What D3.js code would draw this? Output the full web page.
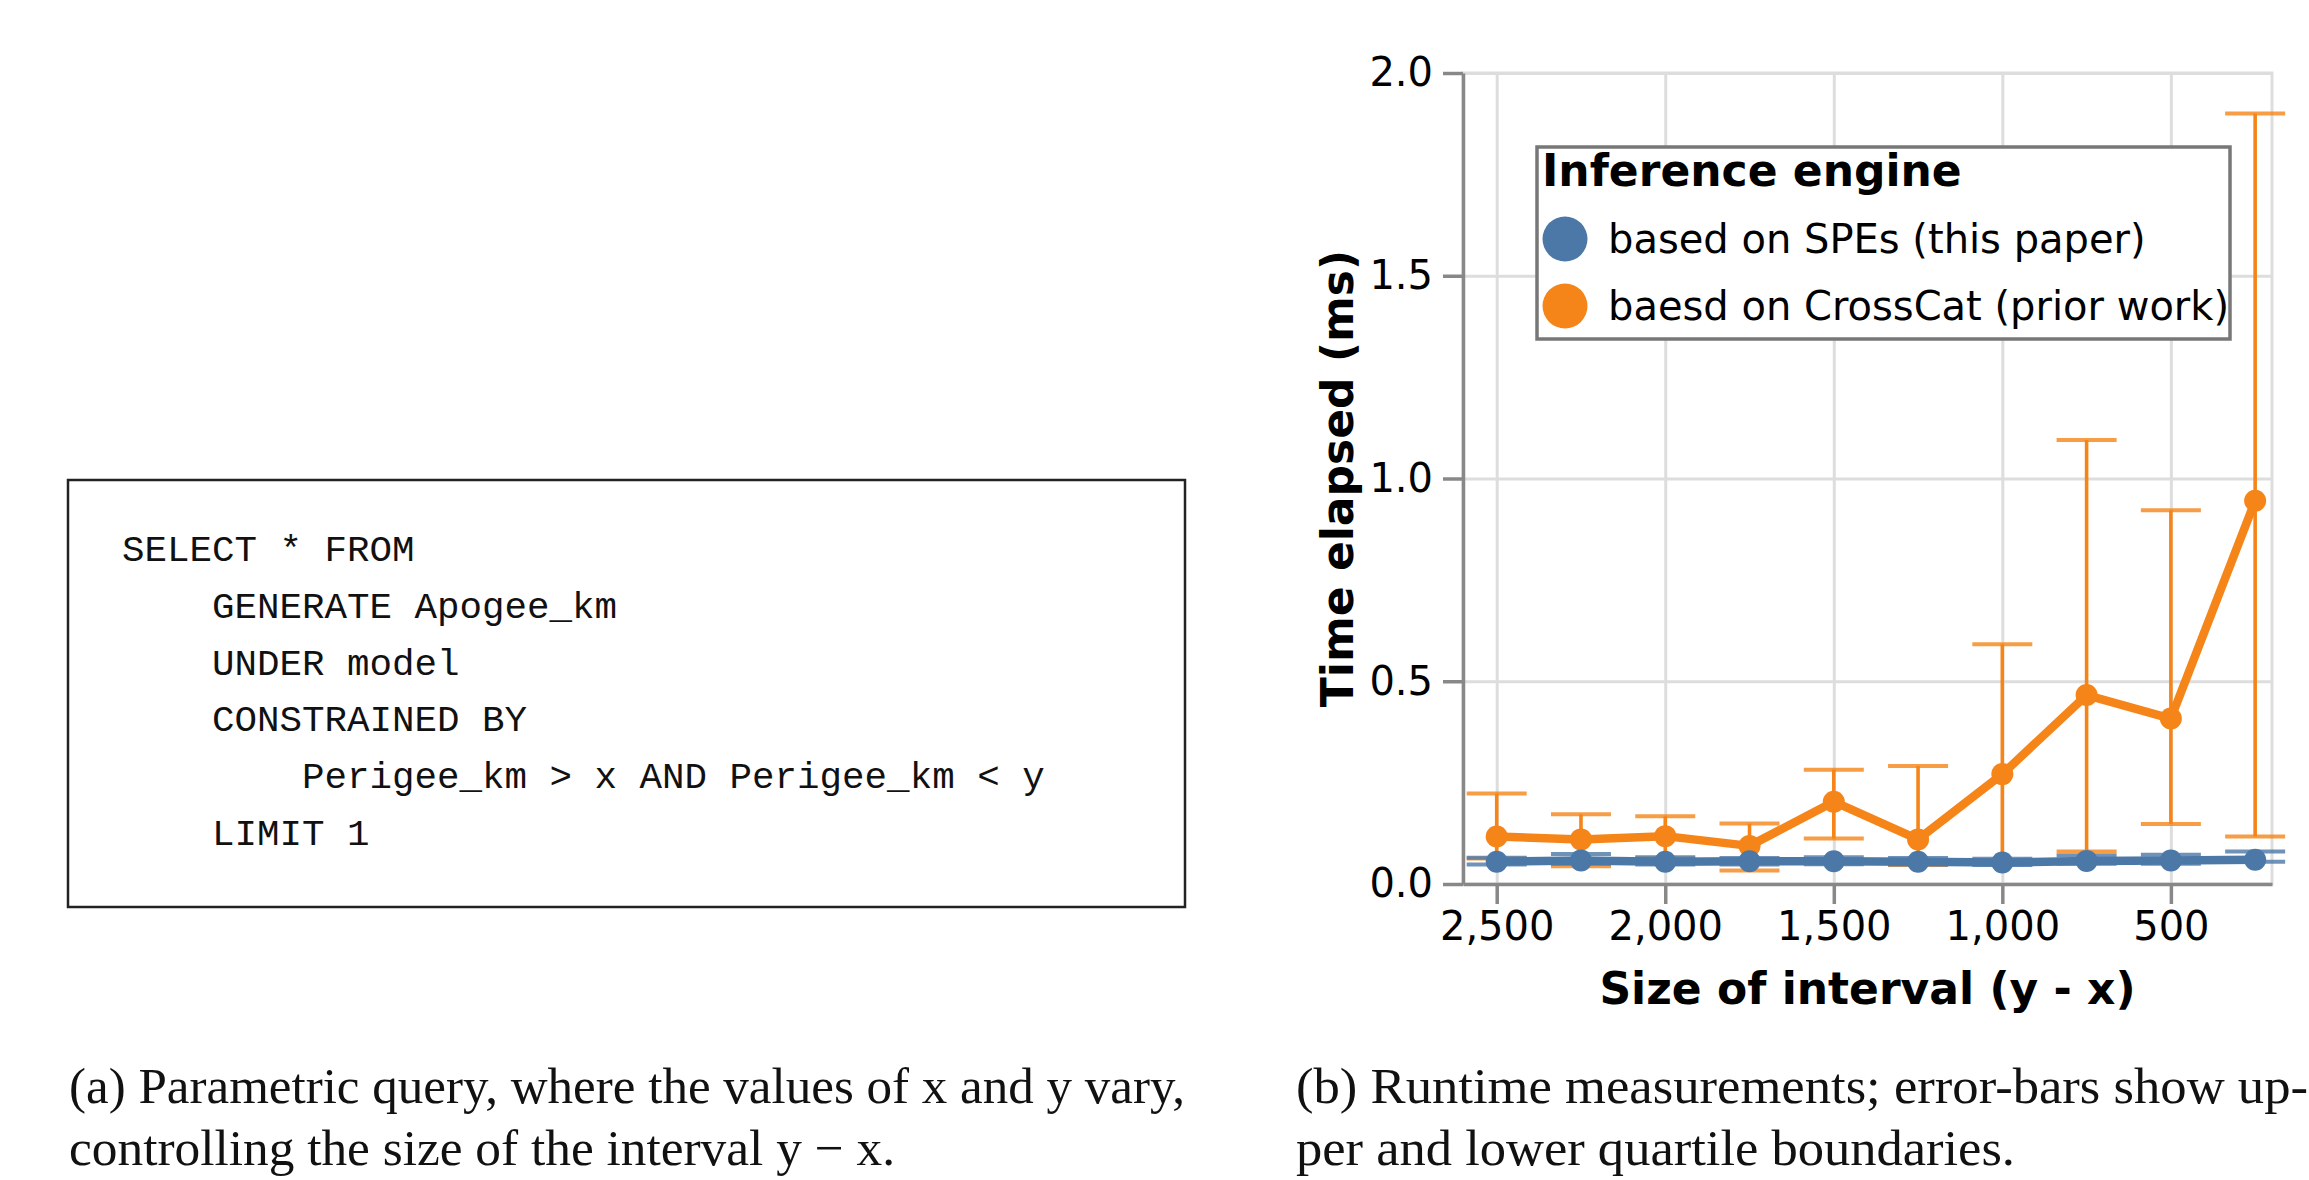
<!DOCTYPE html>
<html>
<head>
<meta charset="utf-8">
<script src="https://cdn.jsdelivr.net/npm/d3@7"></script>
<style>
  html, body { margin: 0; padding: 0; background: #fff; }
  svg { display: block; }
</style>
</head>
<body>
<div id="fig"></div>
<script>

// interval sizes (y - x) on the x axis
var intervalSizes = [2500, 2250, 2000, 1750, 1500, 1250, 1000, 750, 500, 250];

// SPE engine: median and quartiles (ms)
var speMedian = [0.055, 0.058, 0.055, 0.056, 0.056, 0.055, 0.053, 0.057, 0.058, 0.060];
var speLower  = [0.048, 0.050, 0.048, 0.048, 0.049, 0.048, 0.047, 0.050, 0.050, 0.055];
var speUpper  = [0.065, 0.074, 0.066, 0.064, 0.066, 0.064, 0.062, 0.070, 0.072, 0.080];

// CrossCat engine: median and quartiles (ms)
var crossMedian = [0.117, 0.110, 0.118, 0.094, 0.203, 0.110, 0.271, 0.466, 0.408, 0.945];
var crossLower  = [0.063, 0.044, 0.063, 0.033, 0.112, 0.047, 0.051, 0.080, 0.148, 0.117];
var crossUpper  = [0.223, 0.172, 0.167, 0.149, 0.282, 0.291, 0.591, 1.095, 0.922, 1.900];

var seriesNames = ["based on SPEs (this paper)", "baesd on CrossCat (prior work)"];
var seriesColors = ["#4c78a8", "#f58518"];

var xTicks = [2500, 2000, 1500, 1000, 500];
var yTicks = [0, 0.5, 1.0, 1.5, 2.0];

var xTitle = "Size of interval (y - x)";
var yTitle = "Time elapsed (ms)";
var legendTitle = "Inference engine";

var queryLines = [
	"SELECT * FROM",
	"    GENERATE Apogee_km",
	"    UNDER model",
	"    CONSTRAINED BY",
	"        Perigee_km > x AND Perigee_km < y",
	"    LIMIT 1"
];

var captionA = ["(a) Parametric query, where the values of x and y vary,",
	"controlling the size of the interval y \u2212 x."];
var captionB = ["(b) Runtime measurements; error-bars show up-",
	"per and lower quartile boundaries."];

var W = 2309, H = 1180;

var svg = d3.select("#fig")
	.append("svg")
	.attr("width", W)
	.attr("height", H);

// ---------- left panel: query box ----------
var left = svg.append("g");
left.append("rect")
	.attr("x", 68).attr("y", 480)
	.attr("width", 1117).attr("height", 427)
	.attr("fill", "none")
	.attr("stroke", "#222")
	.attr("stroke-width", 2.5);

left.selectAll("text.code")
	.data(queryLines)
	.enter()
	.append("text")
	.attr("class", "code")
	.attr("x", 122)
	.attr("y", function(d, i) { return 561 + i * 56.8; })
	.attr("font-family", "Liberation Mono, DejaVu Sans Mono, monospace")
	.attr("font-size", 37.5)
	.attr("fill", "#111")
	.style("white-space", "pre")
	.attr("xml:space", "preserve")
	.text(function(d) { return d; });

// captions
function caption(lines, x, widths) {
	svg.selectAll(null)
		.data(lines)
		.enter()
		.append("text")
		.attr("x", x)
		.attr("y", function(d, i) { return 1103 + i * 62; })
		.attr("font-family", "Liberation Serif, serif")
		.attr("font-size", 51)
		.attr("fill", "#111")
		.attr("textLength", function(d, i) { return widths[i]; })
		.attr("lengthAdjust", "spacingAndGlyphs")
		.text(function(d) { return d; });
}
caption(captionA, 69, [1116, 826]);
caption(captionB, 1296, [1012, 719]);

// ---------- right panel: chart ----------
var x0 = 1463, x1 = 2272, y0 = 73, y1 = 884;
var width = x1 - x0, height = y1 - y0;

var g = svg.append("g").attr("transform", "translate(" + x0 + "," + y0 + ")");

var x = d3.scaleLinear().domain([2600, 200]).range([0, width]);
var y = d3.scaleLinear().domain([0, 2]).range([height, 0]);

// grid
var gx = g.append("g")
	.attr("transform", "translate(0," + height + ")")
	.call(d3.axisBottom(x).tickValues(xTicks).tickSize(-height).tickFormat(""));
var gy = g.append("g")
	.call(d3.axisLeft(y).tickValues(yTicks).tickSize(-width).tickFormat(""));
[gx, gy].forEach(function(a) {
	a.select(".domain").remove();
	a.selectAll("line").attr("stroke", "#ddd").attr("stroke-width", 3);
});

// view border (light)
g.append("rect")
	.attr("x", 0).attr("y", 0)
	.attr("width", width).attr("height", height)
	.attr("fill", "none")
	.attr("stroke", "#ddd")
	.attr("stroke-width", 3);

// axes
var xAxis = g.append("g")
	.attr("transform", "translate(0," + height + ")")
	.call(d3.axisBottom(x).tickValues(xTicks).tickSize(20).tickPadding(8).tickSizeOuter(0).tickFormat(d3.format(",")));
var yAxis = g.append("g")
	.call(d3.axisLeft(y).tickValues(yTicks).tickSize(20).tickPadding(10).tickSizeOuter(0).tickFormat(d3.format(".1f")));
[xAxis, yAxis].forEach(function(a) {
	a.select(".domain").attr("stroke", "#888").attr("stroke-width", 3.5);
	a.selectAll(".tick line").attr("stroke", "#888").attr("stroke-width", 3.5);
	a.selectAll(".tick text")
		.attr("fill", "#000")
		.attr("font-family", "DejaVu Sans, sans-serif")
		.attr("font-size", 40);
});

// axis titles
g.append("text")
	.attr("x", width / 2)
	.attr("y", 1004 - y0)
	.attr("text-anchor", "middle")
	.attr("font-family", "DejaVu Sans, sans-serif")
	.attr("font-weight", "bold")
	.attr("font-size", 44)
	.text(xTitle);

g.append("text")
	.attr("transform", "translate(" + (1353 - x0) + "," + (height / 2) + ") rotate(-90)")
	.attr("text-anchor", "middle")
	.attr("font-family", "DejaVu Sans, sans-serif")
	.attr("font-weight", "bold")
	.attr("font-size", 44)
	.text(yTitle);

// series
var series = [
	{ name: seriesNames[0], color: seriesColors[0], mid: speMedian, lo: speLower, hi: speUpper },
	{ name: seriesNames[1], color: seriesColors[1], mid: crossMedian, lo: crossLower, hi: crossUpper }
];

function rows(s) {
	return intervalSizes.map(function(v, i) {
		return { size: v, mid: s.mid[i], lo: s.lo[i], hi: s.hi[i] };
	});
}

var capW = 60;
var line = d3.line()
	.x(function(d) { return x(d.size); })
	.y(function(d) { return y(d.mid); });

// error bars first (both series), then lines and points, orange under blue
[series[1], series[0]].forEach(function(s) {
	var eb = g.append("g");
	var data = rows(s);
	eb.selectAll("line.rule")
		.data(data).enter().append("line")
		.attr("x1", function(d) { return x(d.size); })
		.attr("x2", function(d) { return x(d.size); })
		.attr("y1", function(d) { return y(d.lo); })
		.attr("y2", function(d) { return y(d.hi); })
		.attr("stroke", s.color).attr("stroke-width", 3.6);
	["lo", "hi"].forEach(function(k) {
		eb.selectAll("line.cap" + k)
			.data(data).enter().append("line")
			.attr("x1", function(d) { return x(d.size) - capW / 2; })
			.attr("x2", function(d) { return x(d.size) + capW / 2; })
			.attr("y1", function(d) { return y(d[k]); })
			.attr("y2", function(d) { return y(d[k]); })
			.attr("stroke", s.color).attr("stroke-width", 4)
			.attr("opacity", 0.8);
	});
});

[series[1], series[0]].forEach(function(s) {
	var data = rows(s);
	g.append("path")
		.datum(data)
		.attr("d", line)
		.attr("fill", "none")
		.attr("stroke", s.color)
		.attr("stroke-width", 8.5)
		.attr("stroke-linejoin", "round");
	g.selectAll(null)
		.data(data).enter().append("circle")
		.attr("cx", function(d) { return x(d.size); })
		.attr("cy", function(d) { return y(d.mid); })
		.attr("r", 11)
		.attr("fill", s.color);
});

// legend
var lg = svg.append("g").attr("transform", "translate(1537,147)");
lg.append("rect")
	.attr("x", 0).attr("y", 0)
	.attr("width", 693).attr("height", 192)
	.attr("fill", "#fff")
	.attr("stroke", "#777")
	.attr("stroke-width", 3.5);
lg.append("text")
	.attr("x", 5).attr("y", 39)
	.attr("font-family", "DejaVu Sans, sans-serif")
	.attr("font-weight", "bold")
	.attr("font-size", 44)
	.text(legendTitle);
var items = lg.selectAll("g.item")
	.data(series)
	.enter().append("g")
	.attr("transform", function(d, i) { return "translate(28," + (92 + i * 67) + ")"; });
items.append("circle")
	.attr("r", 22.5)
	.attr("fill", function(d) { return d.color; });
items.append("text")
	.attr("x", 43)
	.attr("y", 14)
	.attr("font-family", "DejaVu Sans, sans-serif")
	.attr("font-size", 40)
	.attr("fill", "#000")
	.text(function(d) { return d.name; });

</script>
</body>
</html>
